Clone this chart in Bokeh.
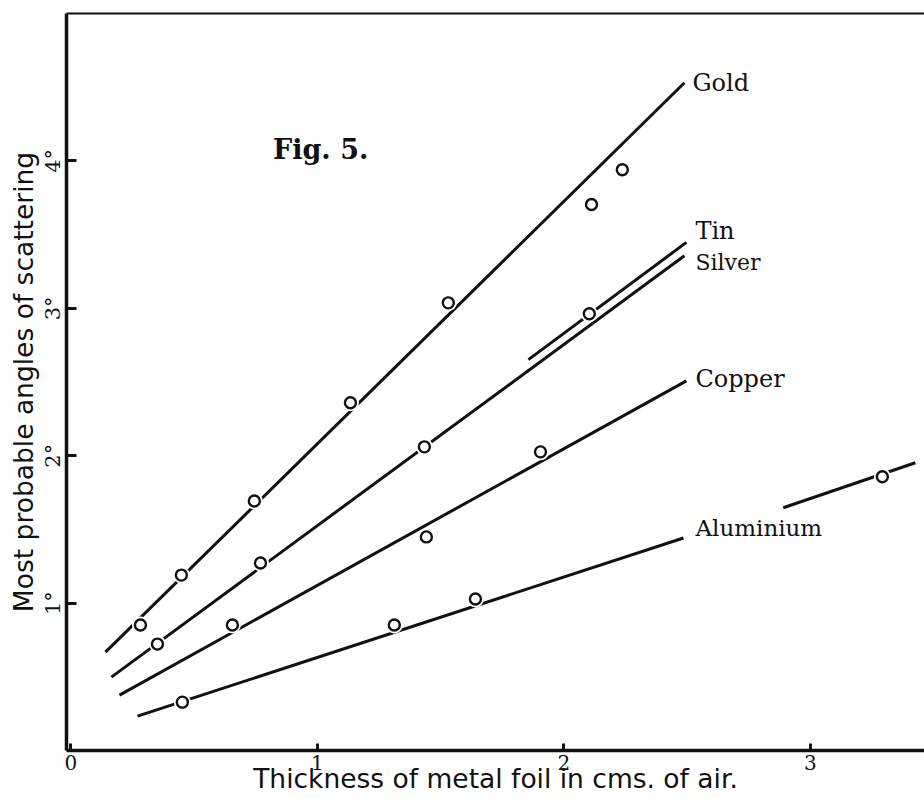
from bokeh.plotting import figure
from bokeh.models import Range1d, LinearAxis, FixedTicker, Label
from bokeh.embed import file_html
from bokeh.resources import INLINE

# ---- data ----
gold_x = [0.282, 0.448, 0.744, 1.134, 1.531, 2.112, 2.237]
gold_y = [0.851, 1.190, 1.693, 2.359, 3.037, 3.704, 3.940]
gold_fit_x = [0.140, 2.489]
gold_fit_y = [0.667, 4.530]

tin_x = [2.103]
tin_y = [2.963]
tin_fit_x = [1.856, 2.497]
tin_fit_y = [2.652, 3.447]

silver_x = [0.351, 0.769, 1.434]
silver_y = [0.722, 1.272, 2.060]
silver_fit_x = [0.164, 2.489]
silver_fit_y = [0.498, 3.356]

copper_x = [0.655, 1.442, 1.905]
copper_y = [0.851, 1.449, 2.026]
copper_fit_x = [0.197, 2.497]
copper_fit_y = [0.376, 2.508]

al_x = [0.452, 1.312, 1.641, 3.292]
al_y = [0.328, 0.851, 1.028, 1.857]
al_fit_x = [0.270, 2.485]
al_fit_y = [0.233, 1.442]
al_fit2_x = [2.890, 3.426]
al_fit2_y = [1.647, 1.952]

x_ticks = [0, 1, 2, 3]
y_ticks = [1, 2, 3, 4]
y_tick_labels = {1: "1°", 2: "2°", 3: "3°", 4: "4°"}

INK = "#111111"
SERIF = "DejaVu Serif"
SANS = "DejaVu Sans"

p = figure(width=924, height=798, output_backend="svg", toolbar_location=None,
           x_range=Range1d(-0.018, 3.463), y_range=Range1d(0.0, 5.0),
           x_axis_label="Thickness of metal foil in cms. of air.",
           y_axis_label="Most probable angles of scattering",
           min_border_left=66, min_border_right=0, min_border_top=13, min_border_bottom=48)
p.background_fill_color = "white"
p.border_fill_color = "white"
p.outline_line_color = None
p.xgrid.visible = False
p.ygrid.visible = False

xa = p.xaxis[0]
xa.ticker = FixedTicker(ticks=x_ticks)
xa.axis_line_width = 3.5
xa.axis_line_color = INK
xa.major_tick_in = 7
xa.major_tick_out = 0
xa.major_tick_line_width = 3
xa.major_tick_line_color = INK
xa.minor_tick_line_color = None
xa.major_label_text_font = SERIF
xa.major_label_text_font_size = "20px"
xa.major_label_text_color = INK
xa.major_label_standoff = 4
xa.axis_label_text_font = SANS
xa.axis_label_text_font_size = "26.5px"
xa.axis_label_text_font_style = "normal"
xa.axis_label_text_color = INK
xa.axis_label_standoff = -10

ya = p.yaxis[0]
ya.ticker = FixedTicker(ticks=y_ticks)
ya.major_label_overrides = y_tick_labels
ya.major_label_orientation = "vertical"
ya.axis_line_width = 3.5
ya.axis_line_color = INK
ya.major_tick_in = 10
ya.major_tick_out = 0
ya.major_tick_line_width = 3
ya.major_tick_line_color = INK
ya.minor_tick_line_color = None
ya.major_label_text_font = SERIF
ya.major_label_text_font_size = "21px"
ya.major_label_text_color = INK
ya.major_label_standoff = 1
ya.axis_label_text_font = SANS
ya.axis_label_text_font_size = "26.5px"
ya.axis_label_text_font_style = "normal"
ya.axis_label_text_color = INK
ya.axis_label_standoff = 0

top = LinearAxis(ticker=FixedTicker(ticks=[]), axis_line_width=2, axis_line_color=INK,
                 major_tick_in=0, major_tick_out=0, minor_tick_line_color=None,
                 major_label_text_font_size="0px")
p.add_layout(top, "above")

series = [
    (gold_fit_x, gold_fit_y, gold_x, gold_y),
    (tin_fit_x, tin_fit_y, tin_x, tin_y),
    (silver_fit_x, silver_fit_y, silver_x, silver_y),
    (copper_fit_x, copper_fit_y, copper_x, copper_y),
    (al_fit_x, al_fit_y, al_x, al_y),
    (al_fit2_x, al_fit2_y, [], []),
]
for fx, fy, _, _ in series:
    p.line(fx, fy, line_color=INK, line_width=3)
for _, _, sx, sy in series:
    if sx:
        p.scatter(sx, sy, marker="circle", size=17, fill_color="white", line_color=None)
for _, _, sx, sy in series:
    if sx:
        p.scatter(sx, sy, marker="circle", size=11, fill_color="white",
                  line_color=INK, line_width=2.4)

labels = [
    ("Gold", gold_fit_x[-1], gold_fit_y[-1], 8, 0, "24px"),
    ("Tin", tin_fit_x[-1], tin_fit_y[-1], 9, 11, "24px"),
    ("Silver", silver_fit_x[-1], silver_fit_y[-1], 11, -7, "22px"),
    ("Copper", copper_fit_x[-1], copper_fit_y[-1], 9, 2, "24px"),
    ("Aluminium", al_fit_x[-1], al_fit_y[-1], 12, 10, "23px"),
]
for txt, lx, ly, dx, dy, fs in labels:
    p.add_layout(Label(x=lx, y=ly, x_offset=dx, y_offset=dy, text=txt,
                       text_font=SERIF, text_font_size=fs, text_color=INK,
                       text_baseline="middle", text_align="left"))

p.add_layout(Label(x=0.82, y=4.075, text="Fig. 5.", text_font=SERIF,
                   text_font_size="27px", text_font_style="bold", text_color=INK,
                   text_baseline="middle", text_align="left"))

open("out.html", "w").write(file_html(p, INLINE))
